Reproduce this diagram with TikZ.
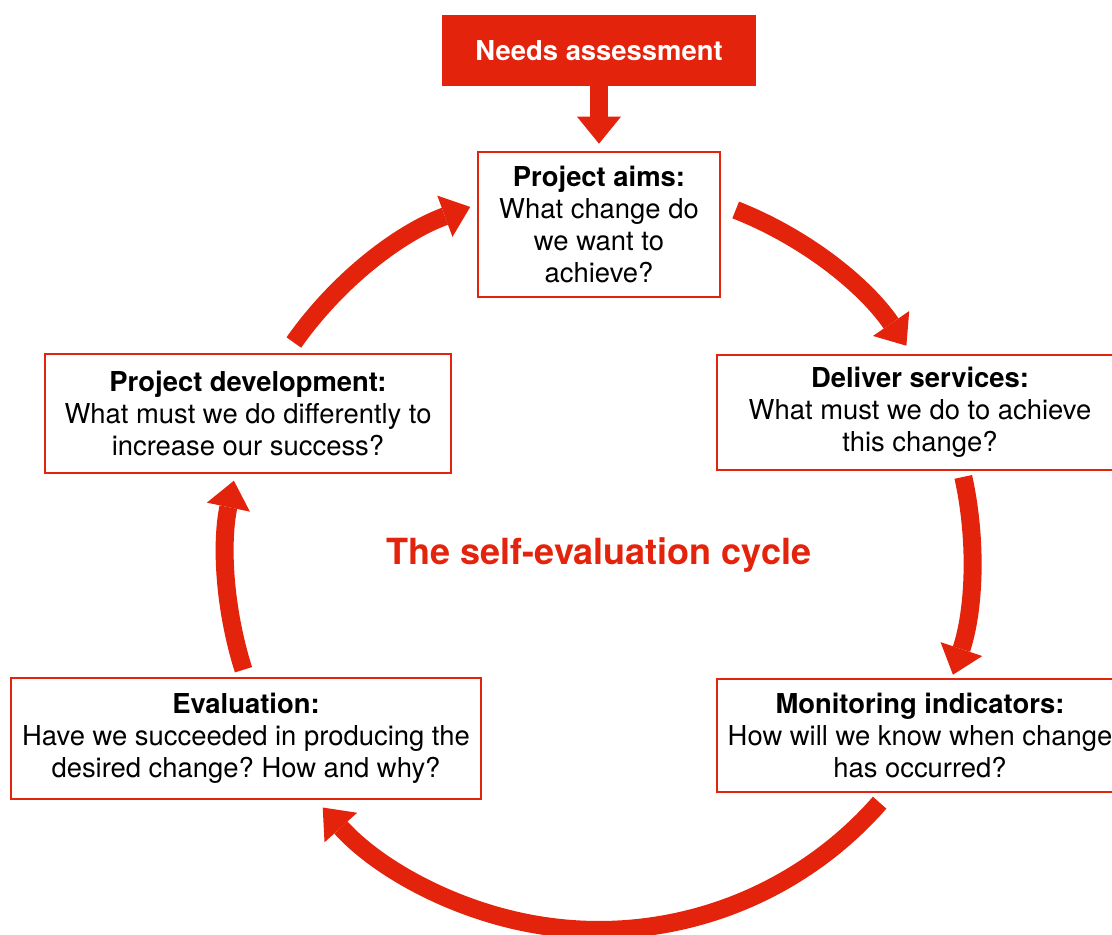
\documentclass[tikz,border=0pt]{standalone}
\usepackage{fontspec}
\setmainfont{TeX Gyre Heros}
\usetikzlibrary{arrows.meta}

\definecolor{cyclered}{RGB}{228,35,12}
\newcommand\boxfont{\fontsize{15.6pt}{18.2pt}\selectfont}
\newcommand\cycletitlefont{\fontsize{20.5pt}{24pt}\selectfont\bfseries}
\frenchspacing

\begin{document}
\begin{tikzpicture}[x=0.02cm, y=0.02cm,
  qbox/.style={draw=cyclered, line width=1.5pt, fill=white, align=center, inner sep=2pt, font=\boxfont},
  cyclearrow/.style={cyclered, line width=0.36cm, -{Triangle[length=0.54cm, width=0.88cm, line width=0pt]}}]
\useasboundingbox (0,0) rectangle (1112,935);

\node[fill=cyclered, text=white, minimum width=6.28cm, minimum height=1.42cm, font=\boxfont\bfseries] (needs) at (599,884.5) {Needs assessment};

\node[qbox, minimum width=4.84cm, minimum height=2.9cm] (aims) at (599,710.5)
  {\textbf{Project aims:}\\What change do\\we want to\\achieve?};
\node[qbox, minimum width=8.12cm, minimum height=2.3cm] (deliver) at (920,522.5)
  {\textbf{Deliver services:}\\What must we do to achieve\\this change?};
\node[qbox, minimum width=8.12cm, minimum height=2.26cm] (monitor) at (920,199.5)
  {\textbf{Monitoring indicators:}\\How will we know when change\\has occurred?};
\node[qbox, minimum width=9.4cm, minimum height=2.42cm] (eval) at (246,196.5)
  {\textbf{Evaluation:}\\Have we succeeded in producing the\\desired change? How and why?};
\node[qbox, minimum width=8.12cm, minimum height=2.38cm] (devel) at (248,521.5)
  {\textbf{Project development:}\\What must we do differently to\\increase our success?};

\node[anchor=base, text=cyclered, font=\cycletitlefont] (title) at (599,370) {The self-evaluation cycle};

% centre of the cycle and the arc starts
\coordinate (hub) at (599,378);
\coordinate (aims-out) at ([shift={(68.5:373)}]hub);
\coordinate (deliver-out) at ([shift={(12.4:373)}]hub);
\coordinate (monitor-out) at ([shift={(-41.2:373)}]hub);
\coordinate (eval-out) at ([shift={(197.6:373)}]hub);
\coordinate (devel-out) at ([shift={(144.9:373)}]hub);

\draw[cyclered, line width=0.36cm, -{Triangle[length=0.54cm, width=0.88cm, line width=0pt]}, shorten >=0.14cm] (needs) -- (aims);

\draw[cyclearrow] (aims-out) arc[start angle=68.5, end angle=34.5, radius=373];
\draw[cyclearrow] (deliver-out) arc[start angle=12.4, end angle=-18.4, radius=373];
\draw[cyclearrow] (monitor-out) arc[start angle=-41.2, end angle=-137.8, radius=373];
\draw[cyclearrow] (eval-out) arc[start angle=197.6, end angle=168.2, radius=373];
\draw[cyclearrow] (devel-out) arc[start angle=144.9, end angle=110.2, radius=373];

\end{tikzpicture}
\end{document}
